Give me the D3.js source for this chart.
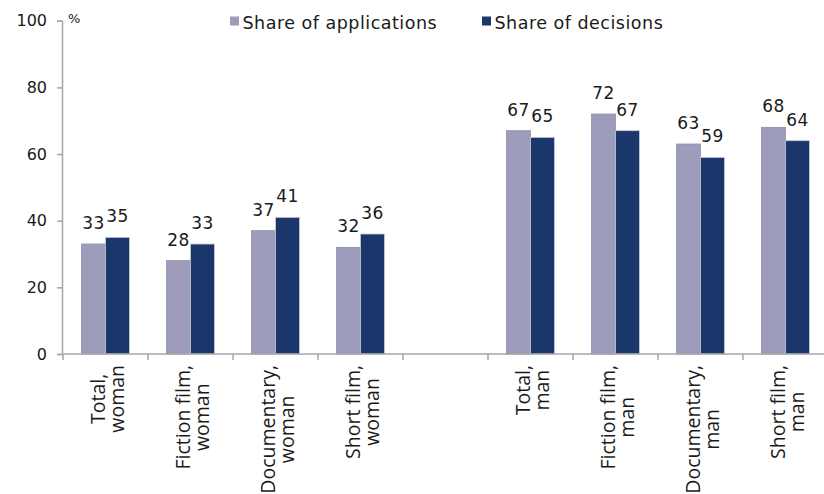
<!DOCTYPE html>
<html>
<head>
<meta charset="utf-8">
<script src="https://cdn.jsdelivr.net/npm/d3@7"></script>
<style>
  html, body { margin: 0; padding: 0; background: #fff; }
  svg { display: block; }
</style>
</head>
<body>
<svg id="chart" width="824" height="494"></svg>
<script>
// data
var categories = ["Total, woman", "Fiction film, woman", "Documentary, woman", "Short film, woman", "",
                  "Total, man", "Fiction film, man", "Documentary, man", "Short film, man"];
var applications = [33, 28, 37, 32, null, 67, 72, 63, 68];
var decisions = [35, 33, 41, 36, null, 65, 67, 59, 64];
var seriesNames = ["Share of applications", "Share of decisions"];
var seriesColors = ["#9d9dbb", "#1b366b"];
var yTicks = [0, 20, 40, 60, 80, 100];

var svg = d3.select("#chart"),
    mainFont = "'DejaVu Sans', sans-serif",
    catFont = "'Open Sans', sans-serif";

var x0 = d3.scaleBand()
    .domain(d3.range(categories.length))
    .range([63, 828]);

var x1 = d3.scaleBand()
    .domain([0, 1])
    .range([0, x0.bandwidth()])
    .paddingInner(0)
    .paddingOuter(0.77);

var y = d3.scaleLinear()
    .domain([0, 100])
    .range([354, 20.7]);

var data = categories.map(function (c, i) {
  return { i: i, cat: c, vals: [applications[i], decisions[i]] };
});

// bars
var grp = svg.append("g")
  .selectAll("g")
  .data(data.filter(function (d) { return d.vals[0] != null; }))
  .enter().append("g")
  .attr("transform", function (d) { return "translate(" + x0(d.i) + ",0)"; });

grp.selectAll("rect")
  .data(function (d) { return d.vals.map(function (v, k) { return { k: k, v: v }; }); })
  .enter().append("rect")
  .attr("x", function (d) { return x1(d.k); })
  .attr("y", function (d) { return y(d.v); })
  .attr("width", x1.bandwidth())
  .attr("height", function (d) { return y(0) - y(d.v); })
  .attr("fill", function (d) { return seriesColors[d.k]; })
  .attr("stroke", function (d) { return d.k == 0 ? "#8e8eae" : "#c9cbd8"; })
  .attr("stroke-width", 0.8);

grp.selectAll("text")
  .data(function (d) { return d.vals.map(function (v, k) { return { k: k, v: v }; }); })
  .enter().append("text")
  .attr("x", function (d) { return x1(d.k) + x1.bandwidth() / 2; })
  .attr("y", function (d) { return y(d.v) - 15; })
  .attr("text-anchor", "middle")
  .attr("font-family", mainFont)
  .attr("font-size", 17)
  .attr("letter-spacing", 0.5)
  .attr("fill", "#1a1a1a")
  .text(function (d) { return d.v; });

// y axis
var yAxis = svg.append("g")
  .attr("transform", "translate(62,0)")
  .call(d3.axisLeft(y).tickValues(yTicks).tickSize(5).tickPadding(10));
yAxis.selectAll("line, path").attr("stroke", "#a6a6a6").attr("stroke-width", 1.5);
yAxis.selectAll("text")
  .attr("font-family", mainFont)
  .attr("font-size", 16)
  .attr("fill", "#1a1a1a");

svg.append("text")
  .attr("x", 68).attr("y", 23)
  .attr("font-family", mainFont)
  .attr("font-size", 13)
  .attr("fill", "#1a1a1a")
  .text("%");

// x axis
var xAxisG = svg.append("g").attr("transform", "translate(0," + y(0) + ")");
xAxisG.append("line")
  .attr("x1", 62).attr("x2", 828)
  .attr("stroke", "#a6a6a6").attr("stroke-width", 1.5);
xAxisG.selectAll(".tk")
  .data(d3.range(categories.length + 1))
  .enter().append("line")
  .attr("class", "tk")
  .attr("x1", function (i) { return x0.range()[0] + i * x0.step(); })
  .attr("x2", function (i) { return x0.range()[0] + i * x0.step(); })
  .attr("y1", 0).attr("y2", 6)
  .attr("stroke", "#a6a6a6").attr("stroke-width", 1.5);

// category labels, rotated, lines centred on the longest line
var lineGap = 19;
data.filter(function (d) { return d.cat; }).forEach(function (d) {
  var parts = d.cat.split(", ");
  var lines = [parts[0] + ",", parts[1]];
  var g = svg.append("g")
    .attr("transform", "translate(" + (x0(d.i) + x0.bandwidth() / 2) + ",365) rotate(-90)");
  var t = g.selectAll("text").data(lines).enter().append("text")
    .attr("font-family", catFont)
    .attr("font-size", 19.5)
    .attr("fill", "#1a1a1a")
    .attr("text-anchor", "middle")
    .attr("y", function (l, k) { return k * lineGap - 0.5; })
    .text(function (l) { return l; });
  var len = d3.max(t.nodes(), function (n) { return n.getComputedTextLength(); });
  t.attr("x", -len / 2);
});

// legend
var legendX = [230, 482];
var lg = svg.append("g")
  .selectAll("g")
  .data(seriesNames)
  .enter().append("g")
  .attr("transform", function (d, i) { return "translate(" + legendX[i] + ",0)"; });
lg.append("rect")
  .attr("x", 0).attr("y", 16.5)
  .attr("width", 9).attr("height", 9)
  .attr("fill", function (d, i) { return seriesColors[i]; });
lg.append("text")
  .attr("x", 12.5).attr("y", 28.5)
  .attr("font-family", mainFont)
  .attr("font-size", 17.5)
  .attr("letter-spacing", 0.5)
  .attr("fill", "#1a1a1a")
  .text(function (d) { return d; });
</script>
</body>
</html>
